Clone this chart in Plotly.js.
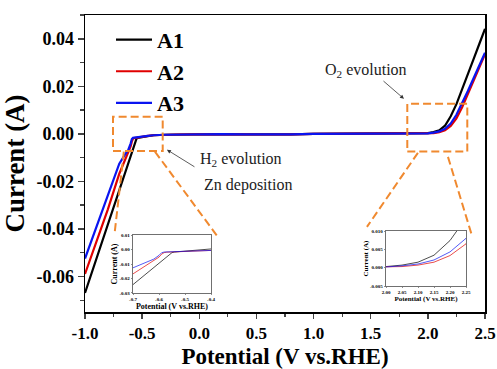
<!DOCTYPE html>
<html><head><meta charset="utf-8">
<script src="https://cdn.plot.ly/plotly-3.0.1.min.js"></script>
<style>html,body{margin:0;padding:0;background:#fff}#chart{width:497px;height:369px}</style>
</head><body><div id="chart"></div>
<script>
// Potential (V vs. RHE)
const potential = [-1.0,-0.9,-0.8,-0.7,-0.65,-0.62,-0.6,-0.59,-0.58,-0.57,-0.56,-0.55,-0.54,-0.5,-0.45,-0.4,-0.3,-0.2,0.0,0.2,0.4,0.6,0.7,0.8,1.0,1.2,1.4,1.6,1.8,1.9,2.0,2.05,2.1,2.15,2.2,2.25,2.3,2.35,2.4,2.45,2.5];
// Current (A)
const currentA1 = [-0.067,-0.0525,-0.038,-0.0242,-0.0168,-0.0124,-0.0095,-0.0080,-0.0066,-0.0051,-0.0036,-0.0021,-0.0017,-0.0013,-0.0010,-0.0006,-0.0004,-0.0003,-0.0002,-0.0001,-0.0002,-0.0003,-0.0004,-0.0002,0.0,0.0,0.0,0.0,0.0001,0.0002,0.0003,0.0007,0.0015,0.0034,0.0074,0.0125,0.0186,0.0250,0.0314,0.0378,0.0442];
const currentA2 = [-0.059,-0.0453,-0.0318,-0.0168,-0.0112,-0.0078,-0.0052,-0.0032,-0.0021,-0.0018,-0.0017,-0.0016,-0.0015,-0.0012,-0.0009,-0.0006,-0.0004,-0.0003,-0.0002,-0.0001,-0.0002,-0.0003,-0.0004,-0.0002,0.0,0.0,0.0,0.0,0.0,0.0001,0.0001,0.0003,0.0007,0.0015,0.0033,0.0065,0.0112,0.0167,0.0223,0.0279,0.0335];
const currentA3 = [-0.0525,-0.0395,-0.0262,-0.0126,-0.0088,-0.0066,-0.0040,-0.0022,-0.0017,-0.0016,-0.0015,-0.0015,-0.0014,-0.0012,-0.0009,-0.0006,-0.0004,-0.0003,-0.0002,-0.0001,-0.0002,-0.0003,-0.0004,-0.0002,0.0,0.0,0.0,0.0,0.0001,0.0001,0.0002,0.0005,0.0010,0.0021,0.0043,0.0080,0.0127,0.0180,0.0234,0.0288,0.0341];
const seriesNames = ["A1","A2","A3"];
const seriesColors = ["#000000","#e00000","#0a14f0"];

const xTickVals = [-1.0,-0.5,0.0,0.5,1.0,1.5,2.0,2.5];
const xTickText = ["-1.0","-0.5","0.0","0.5","1.0","1.5","2.0","2.5"];
const yTickVals = [-0.06,-0.04,-0.02,0.0,0.02,0.04];
const yTickText = ["-0.06","-0.04","-0.02","0.00","0.02","0.04"];
const in1XVals = [-0.7,-0.6,-0.5,-0.4];
const in1XText = ["-0.7","-0.6","-0.5","-0.4"];
const in1YVals = [-0.03,-0.02,-0.01,0.0,0.01];
const in1YText = ["-0.03","-0.02","-0.01","0.00","0.01"];
const in2XVals = [2.0,2.05,2.1,2.15,2.2,2.25];
const in2XText = ["2.00","2.05","2.10","2.15","2.20","2.25"];
const in2YVals = [-0.005,0.0,0.005,0.010];
const in2YText = ["-0.005","0.000","0.005","0.010"];

const ys = [currentA1,currentA2,currentA3];
const SERIF = "Liberation Serif, Times New Roman, serif";
const traces = [];
ys.forEach((y,i)=>{
  traces.push({x:potential,y:y,type:"scatter",mode:"lines",name:seriesNames[i],
    line:{color:seriesColors[i],width:2.2},xaxis:"x",yaxis:"y"});
});
ys.forEach((y,i)=>{
  traces.push({x:potential,y:y,type:"scatter",mode:"lines",showlegend:false,
    line:{color:seriesColors[i],width:0.7},xaxis:"x2",yaxis:"y2"});
});
ys.forEach((y,i)=>{
  traces.push({x:potential,y:y,type:"scatter",mode:"lines",showlegend:false,
    line:{color:seriesColors[i],width:0.7},xaxis:"x3",yaxis:"y3"});
});

const tickFont = {family:SERIF,size:18,color:"#000",weight:"bold"};
const xTickFont = {family:SERIF,size:17,color:"#000",weight:"bold"};
const insetTick = {family:SERIF,size:5,color:"#000",weight:"bold"};
const insetTitle = {family:SERIF,size:8,color:"#000",weight:"bold"};
const orange = {color:"#f0892f",width:2,dash:"8px,4px"};

const layout = {
  width:497,height:369,
  margin:{l:85,r:12,t:15,b:57},
  paper_bgcolor:"#fff",plot_bgcolor:"rgba(0,0,0,0)",
  showlegend:true,
  legend:{x:0.065,y:0.987,xanchor:"left",yanchor:"top",bgcolor:"rgba(0,0,0,0)",itemwidth:36,
    font:{family:SERIF,size:22,color:"#000",weight:"bold"},tracegroupgap:0},
  xaxis:{range:[-1.0,2.5],tickvals:xTickVals,ticktext:xTickText,ticks:"outside",ticklen:5,tickwidth:1.5,
    minor:{dtick:0.25,tick0:0,ticks:"outside",ticklen:3.5,tickwidth:1.2},
    showline:true,linewidth:1.5,linecolor:"#000",mirror:true,showgrid:false,zeroline:false,
    tickfont:xTickFont,
    title:{text:"Potential (V vs.RHE)",font:{family:SERIF,size:23,color:"#000",weight:"bold"},standoff:6}},
  yaxis:{range:[-0.075,0.05],tickvals:yTickVals,ticktext:yTickText,ticks:"outside",ticklen:6,tickwidth:1.5,
    minor:{dtick:0.01,tick0:0,ticks:"outside",ticklen:3.5,tickwidth:1.2},
    showline:true,linewidth:1.5,linecolor:"#000",mirror:true,showgrid:false,zeroline:false,
    tickfont:tickFont,
    title:{text:"Current (A)",font:{family:SERIF,size:27,color:"#000",weight:"bold"},standoff:4}},
  xaxis2:{domain:[0.12,0.315],anchor:"y2",range:[-0.7,-0.4],tickvals:in1XVals,ticktext:in1XText,
    ticks:"outside",ticklen:1.5,tickwidth:0.6,showline:true,linewidth:0.7,linecolor:"#333",mirror:true,
    showgrid:false,zeroline:false,tickfont:insetTick,
    title:{text:"Potential (V vs.RHE)",font:insetTitle,standoff:0}},
  yaxis2:{domain:[0.064,0.259],anchor:"x2",range:[-0.03,0.01],tickvals:in1YVals,ticktext:in1YText,
    ticks:"outside",ticklen:1.5,tickwidth:0.6,showline:true,linewidth:0.7,linecolor:"#333",mirror:true,
    showgrid:false,zeroline:false,tickfont:insetTick,
    title:{text:"Current (A)",font:insetTitle,standoff:0}},
  xaxis3:{domain:[0.7525,0.9525],anchor:"y3",range:[2.0,2.25],tickvals:in2XVals,ticktext:in2XText,
    ticks:"outside",ticklen:1.5,tickwidth:0.6,showline:true,linewidth:0.7,linecolor:"#333",mirror:true,
    showgrid:false,zeroline:false,tickfont:insetTick,
    title:{text:"Potential (V vs.RHE)",font:{family:SERIF,size:7,color:"#000",weight:"bold"},standoff:0}},
  yaxis3:{domain:[0.0875,0.2727],anchor:"x3",range:[-0.005,0.010],tickvals:in2YVals,ticktext:in2YText,
    ticks:"outside",ticklen:1.5,tickwidth:0.6,showline:true,linewidth:0.7,linecolor:"#333",mirror:true,
    showgrid:false,zeroline:false,tickfont:insetTick,
    title:{text:"Current (A)",font:{family:SERIF,size:7,color:"#000",weight:"bold"},standoff:0}},
  shapes:[
    {type:"rect",xref:"x",yref:"y",x0:-0.755,x1:-0.32,y0:-0.0072,y1:0.0072,line:orange},
    {type:"line",xref:"x",yref:"y",x0:-0.66,y0:-0.0075,x1:-0.74,y1:-0.0415,line:orange},
    {type:"line",xref:"x",yref:"y",x0:-0.388,y0:-0.0075,x1:0.155,y1:-0.0429,line:orange},
    {type:"rect",xref:"x",yref:"y",x0:1.82,x1:2.345,y0:-0.0075,y1:0.0126,line:orange},
    {type:"line",xref:"x",yref:"y",x0:1.913,y0:-0.008,x1:1.467,y1:-0.0392,line:orange},
    {type:"line",xref:"x",yref:"y",x0:2.176,y0:-0.0097,x1:2.386,y1:-0.0429,line:orange}
  ],
  annotations:[
    {xref:"x",yref:"y",x:-0.0114,y:-0.01095,xanchor:"left",yanchor:"middle",showarrow:false,
      text:"H<sub>2</sub> evolution",font:{family:SERIF,size:16,color:"#222"}},
    {xref:"x",yref:"y",x:0.0236,y:-0.0215,xanchor:"left",yanchor:"middle",showarrow:false,
      text:"Zn deposition",font:{family:SERIF,size:16,color:"#222"}},
    {xref:"x",yref:"y",x:1.082,y:0.0265,xanchor:"left",yanchor:"middle",showarrow:false,
      text:"O<sub>2</sub> evolution",font:{family:SERIF,size:16,color:"#222"}},
    {xref:"x",yref:"y",x:-0.283,y:-0.0067,text:"",showarrow:true,ax:29,ay:18,
      arrowhead:2,arrowsize:1,arrowwidth:0.8,arrowcolor:"#333"},
    {xref:"x",yref:"y",x:1.791,y:0.01474,text:"",showarrow:true,ax:-22,ay:-19,
      arrowhead:2,arrowsize:1,arrowwidth:0.8,arrowcolor:"#333"}
  ]
};
Plotly.newPlot("chart",traces,layout,{displayModeBar:false,staticPlot:true});
</script></body></html>
